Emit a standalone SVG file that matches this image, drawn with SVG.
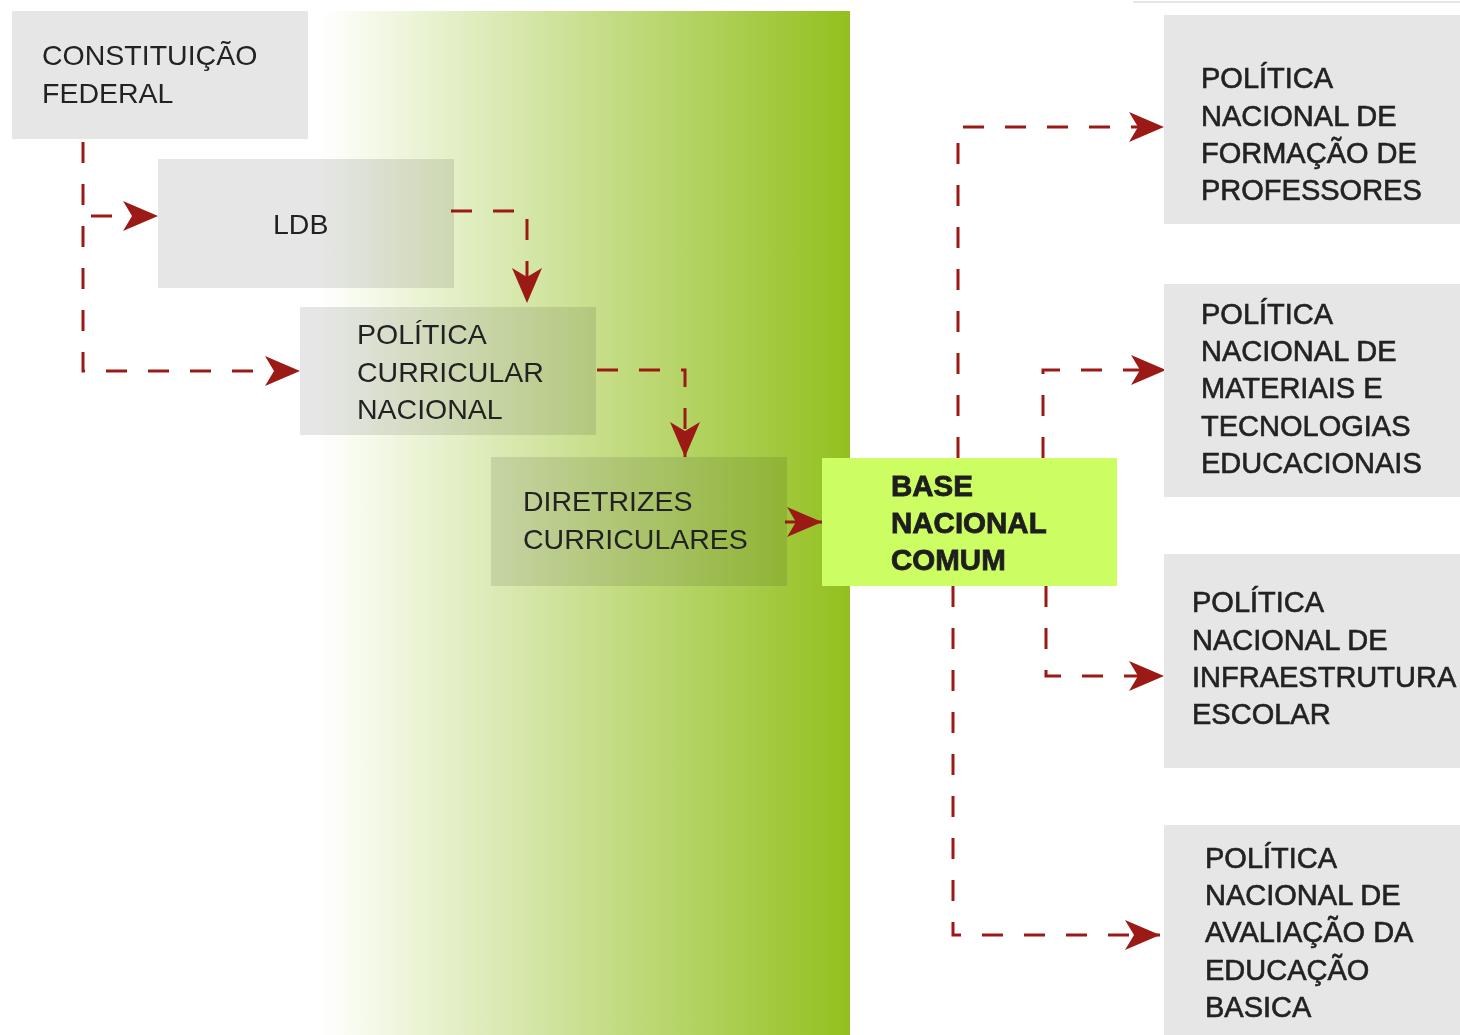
<svg xmlns="http://www.w3.org/2000/svg" width="1460" height="1035" viewBox="0 0 1460 1035">
  <defs>
    <linearGradient id="bg" x1="320" y1="0" x2="850" y2="0" gradientUnits="userSpaceOnUse">
      <stop offset="0" stop-color="#ffffff"/>
      <stop offset="1" stop-color="#93c01f"/>
    </linearGradient>
    <marker id="ah" markerUnits="userSpaceOnUse" markerWidth="36" markerHeight="30" viewBox="0 0 36 30" refX="35" refY="15" orient="auto">
      <path d="M0,0 L35,15 L0,30 L9,15 z" fill="#9b1a15"/>
    </marker>
    <style>
      .box { fill: #e6e6e6; }
      .mul { mix-blend-mode: multiply; }
      .bnc { fill: #ccfe64; }
      .lt { font-family: "Liberation Sans", Arial, sans-serif; font-size: 28.5px; fill: #222222; }
      .rt { font-family: "Liberation Sans", Arial, sans-serif; font-size: 29px; fill: #222222; stroke: #222222; stroke-width: 0.6px; }
      .bt { font-family: "Liberation Sans", Arial, sans-serif; font-size: 29.5px; font-weight: bold; fill: #1e1e1e; stroke: #1e1e1e; stroke-width: 0.8px; }
      .cn { fill: none; stroke: #9b1a15; stroke-width: 3; stroke-dasharray: 21 21; }
    </style>
  </defs>

  <rect x="320" y="11" width="530" height="1024" fill="url(#bg)"/>
  <line x1="1133" y1="2" x2="1460" y2="2" stroke="#e6e6e6" stroke-width="2"/>

  <g id="connectors">
    <path class="cn" d="M83,142 V371 H300" marker-end="url(#ah)"/>
    <path class="cn" d="M91,216 H158" marker-end="url(#ah)"/>
    <path class="cn" d="M451,211 H527 V303" marker-end="url(#ah)"/>
    <path class="cn" d="M597,370 H685 V457" marker-end="url(#ah)"/>
    <path class="cn" d="M785,522 H822" marker-end="url(#ah)" style="stroke-dasharray:none"/>
    <path class="cn" d="M958,458 V127 H1164" marker-end="url(#ah)"/>
    <path class="cn" d="M1043,458 V370 H1166" marker-end="url(#ah)"/>
    <path class="cn" d="M1046,586 V676 H1164" marker-end="url(#ah)"/>
    <path class="cn" d="M953,586 V935 H1160" marker-end="url(#ah)"/>
  </g>

  <g id="constituicao">
    <rect class="box" x="12" y="11" width="296" height="128"/>
    <text class="lt" x="42" y="65">CONSTITUIÇÃO</text>
    <text class="lt" x="42" y="103">FEDERAL</text>
  </g>
  <g id="ldb">
    <rect class="box mul" x="158" y="159" width="296" height="129"/>
    <text class="lt" x="273" y="234">LDB</text>
  </g>
  <g id="pcn">
    <rect class="box mul" x="300" y="307" width="296" height="128"/>
    <text class="lt" x="357" y="344">POLÍTICA</text>
    <text class="lt" x="357" y="382">CURRICULAR</text>
    <text class="lt" x="357" y="419">NACIONAL</text>
  </g>
  <g id="diretrizes">
    <rect class="box mul" x="491" y="457" width="296" height="129"/>
    <text class="lt" x="523" y="511">DIRETRIZES</text>
    <text class="lt" x="523" y="549">CURRICULARES</text>
  </g>
  <g id="bnc">
    <rect class="bnc" x="822" y="458" width="295" height="128"/>
    <text class="bt" x="891" y="496">BASE</text>
    <text class="bt" x="891" y="533">NACIONAL</text>
    <text class="bt" x="891" y="570">COMUM</text>
  </g>
  <g id="pnfp">
    <rect class="box" x="1164" y="15" width="296" height="209"/>
    <text class="rt" x="1201" y="88">POLÍTICA</text>
    <text class="rt" x="1201" y="126">NACIONAL DE</text>
    <text class="rt" x="1201" y="163">FORMAÇÃO DE</text>
    <text class="rt" x="1201" y="200">PROFESSORES</text>
  </g>
  <g id="pnmte">
    <rect class="box" x="1164" y="284" width="296" height="213"/>
    <text class="rt" x="1201" y="324">POLÍTICA</text>
    <text class="rt" x="1201" y="361">NACIONAL DE</text>
    <text class="rt" x="1201" y="398">MATERIAIS E</text>
    <text class="rt" x="1201" y="436">TECNOLOGIAS</text>
    <text class="rt" x="1201" y="473">EDUCACIONAIS</text>
  </g>
  <g id="pnie">
    <rect class="box" x="1164" y="554" width="296" height="214"/>
    <text class="rt" x="1192" y="612">POLÍTICA</text>
    <text class="rt" x="1192" y="650">NACIONAL DE</text>
    <text class="rt" x="1192" y="687">INFRAESTRUTURA</text>
    <text class="rt" x="1192" y="724">ESCOLAR</text>
  </g>
  <g id="pnaeb">
    <rect class="box" x="1164" y="825" width="296" height="210"/>
    <text class="rt" x="1205" y="868">POLÍTICA</text>
    <text class="rt" x="1205" y="905">NACIONAL DE</text>
    <text class="rt" x="1205" y="942">AVALIAÇÃO DA</text>
    <text class="rt" x="1205" y="980">EDUCAÇÃO</text>
    <text class="rt" x="1205" y="1017">BASICA</text>
  </g>
</svg>
